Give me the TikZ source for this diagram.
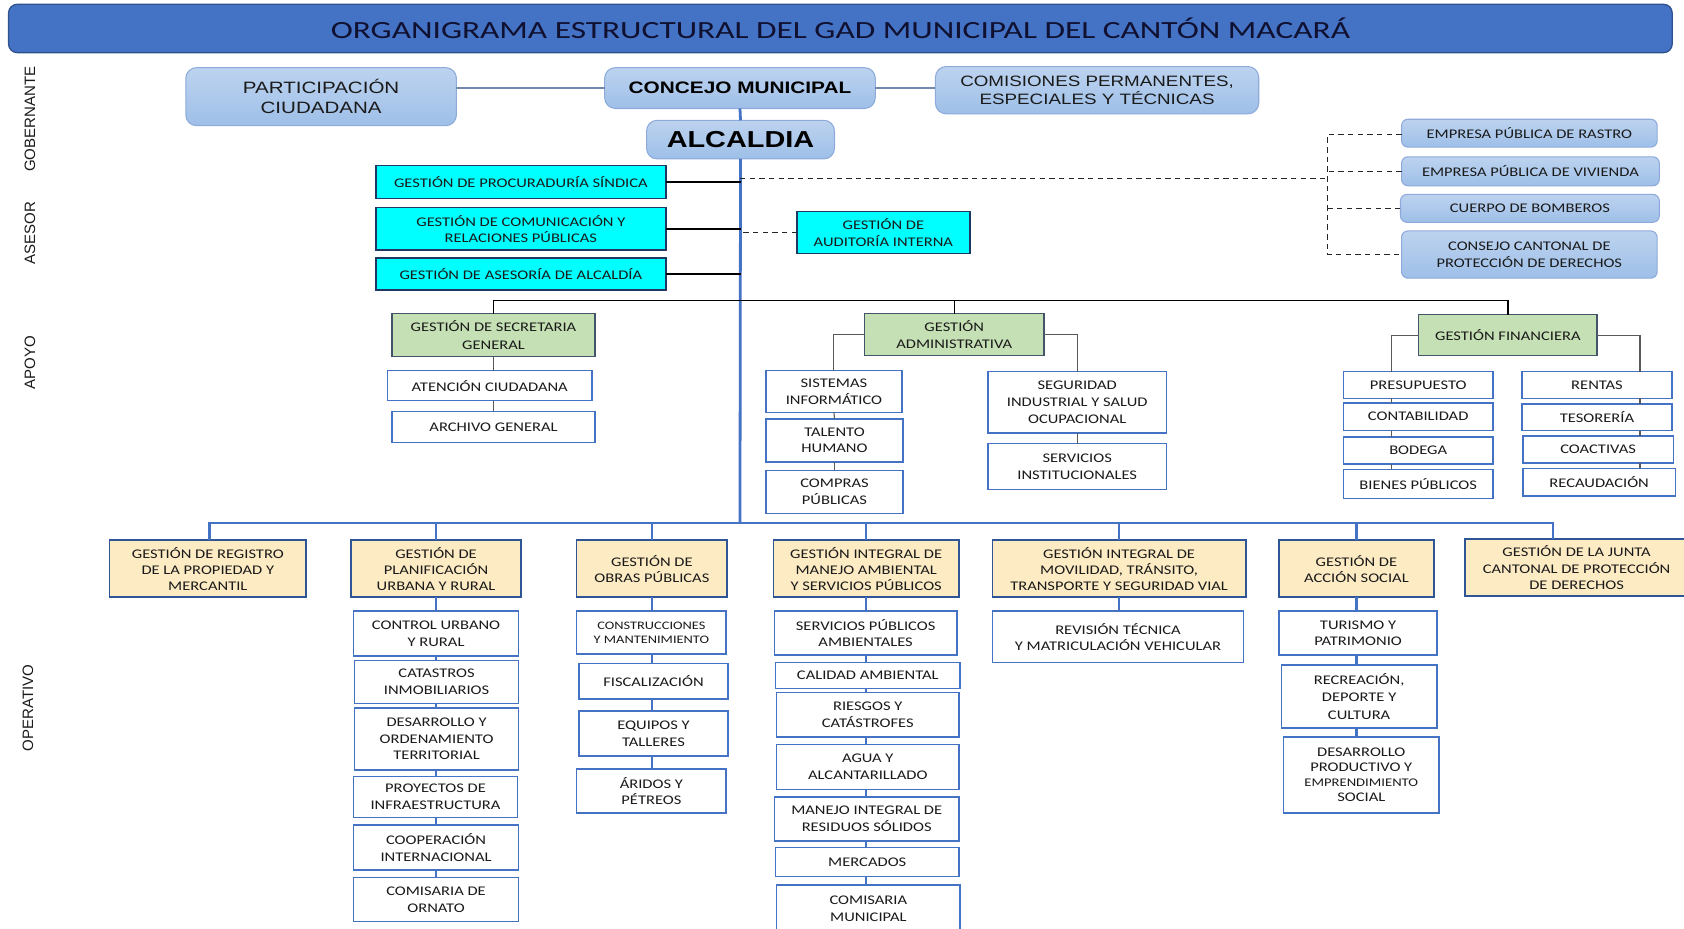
\documentclass[tikz,border=0pt]{standalone}
\usepackage{fontspec}
\setmainfont{Carlito}[FakeStretch=1.25]
\newfontfamily\titf{Carlito}[FakeStretch=1.35]
\newfontfamily\arialw{Liberation Sans}[FakeStretch=1.25]
\newfontfamily\arialf{Liberation Sans}
\definecolor{titB}{HTML}{4472C4}
\definecolor{titD}{HTML}{2F528F}
\definecolor{titT}{HTML}{101030}
\definecolor{gobT}{HTML}{BDD3EF}
\definecolor{gobM}{HTML}{9EBFE8}
\definecolor{gobD}{HTML}{8EAADB}
\definecolor{aseF}{HTML}{00FFFF}
\definecolor{aseD}{HTML}{1F3864}
\definecolor{grnF}{HTML}{C5E0B4}
\definecolor{grnD}{HTML}{44546A}
\definecolor{whD}{HTML}{4472C4}
\definecolor{opF}{HTML}{FDEBC4}
\definecolor{opD}{HTML}{2F5597}
\definecolor{spine}{HTML}{4472C4}
\definecolor{txt}{HTML}{1A1A1A}
\definecolor{grayl}{HTML}{595959}
\newcommand\BX[7]{\node[#2, minimum width={(#5-#3)*1pt}, minimum height={(#6-#4)*1pt}] (#1) at ({(#3+#5)/2},{(#4+#6)/2}) {#7};}
\tikzset{
  base/.style={inner sep=0pt, outer sep=0pt, align=center, text=txt},
  titlebox/.style={base, rounded corners=8pt, fill=titB, draw=titD, line width=1.2pt, text=titT, font=\titf\fontsize{23}{26}\selectfont},
  gob/.style={base, rounded corners=10pt, top color=gobT, bottom color=gobM, draw=gobD, line width=1pt, font=\arialw\fontsize{15.3}{19}\selectfont},
  gobs/.style={base, rounded corners=6pt, top color=gobT, bottom color=gobM, draw=gobD, line width=1pt, font=\fontsize{12.3}{16}\selectfont},
  ase/.style={base, fill=aseF, draw=aseD, line width=1.4pt, font=\fontsize{12.3}{15}\selectfont},
  grn/.style={base, fill=grnF, draw=grnD, line width=1.4pt, font=\fontsize{12.3}{16}\selectfont},
  wh/.style={base, fill=white, draw=whD, line width=1.4pt, font=\fontsize{12.3}{15.5}\selectfont},
  oph/.style={base, fill=opF, draw=opD, line width=1.4pt, font=\fontsize{12.3}{15}\selectfont},
  side/.style={inner sep=0pt, text=txt, font=\arialf\fontsize{14}{16}\selectfont, rotate=90},
  blueln/.style={draw=spine, line width=2.6pt},
  opln/.style={draw=spine, line width=2.2pt},
  blkln/.style={draw=black, line width=1.6pt},
  grayln/.style={draw=grayl, line width=1pt},
  gobln/.style={draw=gobD!80!black, line width=1.6pt},
  dashln/.style={draw=black!85, line width=1.2pt, dash pattern=on 5pt off 4pt}
}
\begin{document}
\begin{tikzpicture}[x=1pt,y=-1pt]
\useasboundingbox (0,0) rectangle (1568,865);
% title
\BX{title}{titlebox}{8}{4}{1557}{49}{ORGANIGRAMA ESTRUCTURAL DEL GAD MUNICIPAL DEL CANTÓN MACARÁ}
% side labels
\node[side] (lgob) at (28,111) {GOBERNANTE};
\node[side] (lase) at (28,217) {ASESOR};
\node[side] (lapo) at (28,338) {APOYO};
\node[side] (lope) at (26,659) {OPERATIVO};
% gobernante
\BX{part}{gob}{173}{63}{425}{117}{PARTICIPACIÓN\\CIUDADANA}
\BX{conc}{gob, font=\arialw\bfseries\fontsize{15.5}{19}\selectfont, text=black}{563}{63}{815}{101}{CONCEJO MUNICIPAL}
\BX{comi}{gob, font=\arialw\fontsize{14}{17}\selectfont}{871}{62}{1172}{106}{COMISIONES PERMANENTES,\\ESPECIALES Y TÉCNICAS}
\BX{alc}{gob, font=\arialw\bfseries\fontsize{21.5}{24}\selectfont, text=black}{602}{112}{777}{148}{ALCALDIA}
\draw[gobln] (conc.west) -- (conc.west -| part.east);
\draw[gobln] (conc.east) -- (conc.east -| comi.west);
\draw[blueln] (conc.south) -- (alc.north);
% spine
\coordinate (opbus) at (689,487);
\draw[blueln] (alc.south) -- (opbus);
% asesor
\BX{proc}{ase}{350}{154}{620}{185}{GESTIÓN DE PROCURADURÍA SÍNDICA}
\BX{comu}{ase}{350}{193}{620}{233}{GESTIÓN DE COMUNICACIÓN Y\\RELACIONES PÚBLICAS}
\BX{asea}{ase}{350}{240}{620}{270}{GESTIÓN DE ASESORÍA DE ALCALDÍA}
\BX{audi}{ase}{742}{197}{903}{236}{GESTIÓN DE\\AUDITORÍA INTERNA}
\draw[blkln] (proc.east) -- (proc.east -| alc.south);
\draw[blkln] (comu.east) -- (comu.east -| alc.south);
\draw[blkln] (asea.east) -- (asea.east -| alc.south);
\draw[dashln] (audi.west) -- (audi.west -| alc.south);
% right entities
\BX{rast}{gobs}{1305}{111}{1543}{137}{EMPRESA PÚBLICA DE RASTRO}
\BX{vivi}{gobs}{1305}{146}{1545}{173}{EMPRESA PÚBLICA DE VIVIENDA}
\BX{bomb}{gobs}{1304}{181}{1545}{207}{CUERPO DE BOMBEROS}
\BX{cons}{gobs}{1305}{215}{1543}{259}{CONSEJO CANTONAL DE\\PROTECCIÓN DE DERECHOS}
\coordinate (dsA) at (689,166);
\coordinate (dsB) at (1236,166);
\coordinate (dsT) at (1236,125);
\coordinate (dsE) at (1236,237);
\draw[dashln] (dsA) -- (dsB);
\draw[dashln] (rast.west |- dsT) -- (dsT) -- (dsE) -- (cons.west |- dsE);
\draw[dashln] (vivi.west) -- (vivi.west -| dsT);
\draw[dashln] (bomb.west) -- (bomb.west -| dsT);
% apoyo
\BX{secr}{grn}{365}{292}{554}{332}{GESTIÓN DE SECRETARIA\\GENERAL}
\BX{admi}{grn}{805}{292}{972}{331}{GESTIÓN\\ADMINISTRATIVA}
\BX{fina}{grn}{1321}{293}{1487}{331}{GESTIÓN FINANCIERA}
\coordinate (apbus) at (689,280);
\draw[blkln, line width=1.3pt] (secr.north) |- (apbus) -| (fina.north);
\draw[blkln, line width=1.3pt] (admi.north) -- (admi.north |- apbus);
\BX{aten}{wh}{361}{345}{551}{373}{ATENCIÓN CIUDADANA}
\BX{arch}{wh}{365}{383}{554}{412}{ARCHIVO GENERAL}
\draw[grayln] (secr.south) -- (secr.south |- aten.north);
\draw[grayln] (aten.south -| secr.south) -- (secr.south |- arch.north);
\BX{sist}{wh}{713}{345}{840}{384}{SISTEMAS\\INFORMÁTICO}
\BX{tale}{wh}{713}{390}{841}{430}{TALENTO\\HUMANO}
\BX{comp}{wh}{713}{438}{841}{478}{COMPRAS\\PÚBLICAS}
\BX{segu}{wh, font=\fontsize{12.3}{16}\selectfont}{920}{346}{1086}{403}{SEGURIDAD\\INDUSTRIAL Y SALUD\\OCUPACIONAL}
\BX{serv}{wh, font=\fontsize{12.3}{16}\selectfont}{920}{413}{1086}{456}{SERVICIOS\\INSTITUCIONALES}
\draw[grayln] (admi.west) -| (sist.north);
\draw[grayln] (admi.east) -| (segu.north);
\draw[grayln] (sist.south) -- (tale.north);
\draw[grayln] (tale.south) -- (comp.north);
\draw[grayln] (segu.south) -- (serv.north);
\BX{pres}{wh}{1251}{346}{1390}{371}{PRESUPUESTO}
\BX{cont}{wh}{1251}{375}{1390}{401}{CONTABILIDAD}
\BX{bode}{wh}{1251}{407}{1390}{432}{BODEGA}
\BX{bien}{wh}{1251}{437}{1390}{464}{BIENES PÚBLICOS}
\BX{rent}{wh}{1417}{346}{1557}{371}{RENTAS}
\BX{teso}{wh}{1417}{376}{1557}{401}{TESORERÍA}
\BX{coac}{wh}{1418}{406}{1558}{431}{COACTIVAS}
\BX{reca}{wh}{1418}{436}{1560}{462}{RECAUDACIÓN}
\coordinate (fl) at (1296,312);
\coordinate (fr) at (1527,312);
\draw[grayln] (fina.west) -- (fl) -- (fl |- pres.north);
\draw[grayln] (fina.east) -- (fr) -- (fr |- rent.north);
\draw[grayln] (pres.south -| fl) -- (fl |- cont.north);
\draw[grayln] (cont.south -| fl) -- (fl |- bode.north);
\draw[grayln] (bode.south -| fl) -- (fl |- bien.north);
\draw[grayln] (rent.south -| fr) -- (fr |- teso.north);
\draw[grayln] (teso.south -| fr) -- (fr |- coac.north);
\draw[grayln] (coac.south -| fr) -- (fr |- reca.north);
% operativo headers
\BX{op1}{oph}{102}{503}{285}{556}{GESTIÓN DE REGISTRO\\DE LA PROPIEDAD Y\\MERCANTIL}
\BX{op2}{oph}{327}{503}{485}{556}{GESTIÓN DE\\PLANIFICACIÓN\\URBANA Y RURAL}
\BX{op3}{oph}{537}{503}{677}{556}{GESTIÓN DE\\OBRAS PÚBLICAS}
\BX{op4}{oph}{720}{503}{893}{556}{GESTIÓN INTEGRAL DE\\MANEJO AMBIENTAL\\Y SERVICIOS PÚBLICOS}
\BX{op5}{oph}{924}{503}{1160}{556}{GESTIÓN INTEGRAL DE\\MOVILIDAD, TRÁNSITO,\\TRANSPORTE Y SEGURIDAD VIAL}
\BX{op6}{oph}{1191}{503}{1335}{556}{GESTIÓN DE\\ACCIÓN SOCIAL}
\BX{op7}{oph, line width=2pt}{1364}{502}{1572}{555}{GESTIÓN DE LA JUNTA\\CANTONAL DE PROTECCIÓN\\DE DERECHOS}
\coordinate (b1) at (195,487);
\coordinate (b7) at (1446,487);
\draw[opln] (b1 |- op1.north) -- (b1) -- (b7) -- (b7 |- op7.north);
\draw[opln] (op2.north) -- (op2.north |- opbus);
\draw[opln] (op3.north) -- (op3.north |- opbus);
\draw[opln] (op4.north) -- (op4.north |- opbus);
\draw[opln] (op5.north) -- (op5.north |- opbus);
\draw[opln] (op6.north) -- (op6.north |- opbus);
% planificacion children
\BX{p1}{wh}{329}{569}{483}{611}{CONTROL URBANO\\Y RURAL}
\BX{p2}{wh}{330}{615}{483}{655}{CATASTROS\\INMOBILIARIOS}
\BX{p3}{wh}{330}{659}{483}{717}{DESARROLLO Y\\ORDENAMIENTO\\TERRITORIAL}
\BX{p4}{wh}{329}{723}{482}{761}{PROYECTOS DE\\INFRAESTRUCTURA}
\BX{p5}{wh}{329}{768}{483}{810}{COOPERACIÓN\\INTERNACIONAL}
\BX{p6}{wh}{329}{817}{483}{858}{COMISARIA DE\\ORNATO}
\foreach \a/\b in {op2/p1,p1/p2,p2/p3,p3/p4,p4/p5,p5/p6}{\draw[opln] (\a.south -| op2.south) -- (op2.south |- \b.north);}
% obras children
\BX{o1}{wh, font=\fontsize{10.7}{13}\selectfont}{537}{569}{676}{609}{CONSTRUCCIONES\\Y MANTENIMIENTO}
\BX{o2}{wh}{539}{618}{678}{651}{FISCALIZACIÓN}
\BX{o3}{wh}{539}{662}{678}{704}{EQUIPOS Y\\TALLERES}
\BX{o4}{wh}{537}{716}{676}{757}{ÁRIDOS Y\\PÉTREOS}
\foreach \a/\b in {op3/o1,o1/o2,o2/o3,o3/o4}{\draw[opln] (\a.south -| op3.south) -- (op3.south |- \b.north);}
% ambiental children
\BX{a1}{wh}{721}{569}{891}{610}{SERVICIOS PÚBLICOS\\AMBIENTALES}
\BX{a2}{wh}{722}{617}{894}{641}{CALIDAD AMBIENTAL}
\BX{a3}{wh}{723}{645}{893}{686}{RIESGOS Y\\CATÁSTROFES}
\BX{a4}{wh}{723}{693}{893}{735}{AGUA Y\\ALCANTARILLADO}
\BX{a5}{wh}{721}{742}{893}{783}{MANEJO INTEGRAL DE\\RESIDUOS SÓLIDOS}
\BX{a6}{wh}{722}{789}{893}{816}{MERCADOS}
\BX{a7}{wh}{723}{824}{894}{868}{COMISARIA\\MUNICIPAL}
\foreach \a/\b in {op4/a1,a1/a2,a2/a3,a3/a4,a4/a5,a5/a6,a6/a7}{\draw[opln] (\a.south -| op4.south) -- (op4.south |- \b.north);}
% movilidad child
\BX{m1}{wh}{924}{569}{1158}{617}{REVISIÓN TÉCNICA\\Y MATRICULACIÓN VEHICULAR}
\draw[opln] (op5.south) -- (op5.south |- m1.north);
% accion social children
\BX{s1}{wh}{1191}{569}{1338}{610}{TURISMO Y\\PATRIMONIO}
\BX{s2}{wh, font=\fontsize{12.3}{16}\selectfont}{1193}{619}{1338}{678}{RECREACIÓN,\\DEPORTE Y\\CULTURA}
\BX{s3}{wh, font=\fontsize{12.3}{14}\selectfont}{1195}{686}{1340}{757}{DESARROLLO\\PRODUCTIVO Y\\{\fontsize{10.9}{14}\selectfont EMPRENDIMIENTO}\\SOCIAL}
\foreach \a/\b in {op6/s1,s1/s2,s2/s3}{\draw[opln] (\a.south -| op6.south) -- (op6.south |- \b.north);}
\end{tikzpicture}
\end{document}
